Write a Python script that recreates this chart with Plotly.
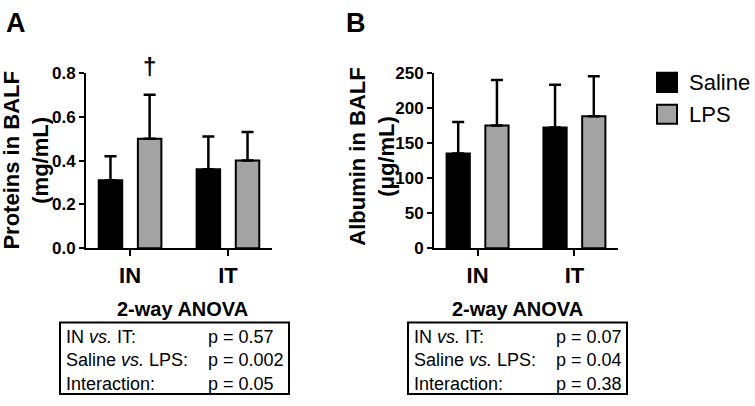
import plotly.graph_objects as go

# ---- data ----
routes = ["IN", "IT"]
groups = ["Saline", "LPS"]
protein_saline = [0.31, 0.36]
protein_saline_sd = [0.11, 0.15]
protein_lps = [0.50, 0.40]
protein_lps_sd = [0.20, 0.13]
albumin_saline = [135, 172]
albumin_saline_sd = [45, 61]
albumin_lps = [175, 188]
albumin_lps_sd = [65, 57]
protein_ticks = [0, 0.2, 0.4, 0.6, 0.8]
albumin_ticks = [0, 50, 100, 150, 200, 250]
anova_labels = ["IN <i>vs.</i> IT:", "Saline <i>vs.</i> LPS:", "Interaction:"]
anova_a = ["p = 0.57", "p = 0.002", "p = 0.05"]
anova_b = ["p = 0.07", "p = 0.04", "p = 0.38"]

# ---- style ----
W, H = 755, 406
FONT = "Arial, Liberation Sans, sans-serif"
COL = {"Saline": "#000000", "LPS": "#a3a3a3"}
BARGAP = 0.2

def px(x):
    return x / W

def py(y):
    return 1 - y / H

fig = go.Figure()

def add_panel(xa, ya, sal, sal_sd, lps, lps_sd):
    for name, vals, sd in (("Saline", sal, sal_sd), ("LPS", lps, lps_sd)):
        fig.add_trace(go.Bar(
            x=routes, y=vals, name=name, xaxis=xa, yaxis=ya, showlegend=False,
            marker=dict(color=COL[name], line=dict(color="black", width=2)),
            error_y=dict(type="data", array=sd, symmetric=False,
                         arrayminus=[0] * len(sd), color="black",
                         thickness=2.5, width=6),
            offsetgroup=name,
        ))

add_panel("x", "y", protein_saline, protein_saline_sd, protein_lps, protein_lps_sd)
add_panel("x2", "y2", albumin_saline, albumin_saline_sd, albumin_lps, albumin_lps_sd)

xcommon = dict(showline=True, linecolor="black", linewidth=2, ticks="outside",
               ticklen=6, tickwidth=2, tickcolor="black", range=[-0.45, 1.45],
               tickfont=dict(family=FONT, size=22, color="black", weight="bold"),
               showgrid=False, zeroline=False, fixedrange=True, type="category")
ycommon = dict(showline=True, linecolor="black", linewidth=2, ticks="outside",
               ticklen=5, tickwidth=2, tickcolor="black",
               tickfont=dict(family=FONT, size=17, color="black", weight="bold"),
               showgrid=False, zeroline=False, fixedrange=True)

fig.update_layout(
    width=W, height=H, margin=dict(l=0, r=0, t=0, b=0),
    paper_bgcolor="white", plot_bgcolor="white",
    barmode="group", bargap=BARGAP, bargroupgap=0.4,
    xaxis=dict(domain=[px(86), px(272)], anchor="y", **xcommon),
    yaxis=dict(domain=[py(251), py(67)], anchor="x", range=[0, 0.8],
               tickvals=protein_ticks, tickformat=".1f", **ycommon),
    xaxis2=dict(domain=[px(434), px(618)], anchor="y2", **xcommon),
    yaxis2=dict(domain=[py(251), py(67)], anchor="x2", range=[0, 250],
                tickvals=albumin_ticks, **ycommon),
)

ann = []
# panel letters
ann.append(dict(text="<b>A</b>", x=px(4), y=py(15), xref="paper", yref="paper",
                xanchor="left", yanchor="middle", showarrow=False,
                font=dict(family=FONT, size=27, color="black")))
ann.append(dict(text="<b>B</b>", x=px(344), y=py(15), xref="paper", yref="paper",
                xanchor="left", yanchor="middle", showarrow=False,
                font=dict(family=FONT, size=27, color="black")))
# y titles
ann.append(dict(text="<b>Proteins in BALF<br>(mg/mL)</b>", textangle=-90,
                x=px(26), y=py(159), xref="paper", yref="paper",
                xanchor="center", yanchor="middle", showarrow=False,
                font=dict(family=FONT, size=22, color="black")))
ann.append(dict(text="<b>Albumin in BALF<br>(μg/mL)</b>", textangle=-90,
                x=px(372), y=py(155), xref="paper", yref="paper",
                xanchor="center", yanchor="middle", showarrow=False,
                font=dict(family=FONT, size=22, color="black")))
# dagger over IN LPS
slot = (1 - BARGAP) / 2
ann.append(dict(text="<b>†</b>", x=routes.index("IN") + slot / 2, xref="x", yref="y",
                y=protein_lps[0] + protein_lps_sd[0], yanchor="bottom", yshift=13,
                showarrow=False, font=dict(family=FONT, size=24, color="black")))

# ANOVA blocks
shapes = []
for cx, box, lx, pxv, vals in ((182, (60, 289), 64, 206, anova_a),
                               (517, (408, 627), 412, 554, anova_b)):
    ann.append(dict(text="<b>2-way ANOVA</b>", x=px(cx), y=py(315), xref="paper",
                    yref="paper", xanchor="center", yanchor="middle", showarrow=False,
                    font=dict(family=FONT, size=20, color="black")))
    shapes.append(dict(type="rect", xref="paper", yref="paper",
                       x0=px(box[0]), x1=px(box[1]), y0=py(404), y1=py(329),
                       line=dict(color="black", width=2)))
    ann.append(dict(text="<br>".join(anova_labels), x=px(lx), y=py(369),
                    xref="paper", yref="paper", xanchor="left", yanchor="middle",
                    align="left", showarrow=False,
                    font=dict(family=FONT, size=18, color="black")))
    ann.append(dict(text="<br>".join(vals), x=px(pxv), y=py(369),
                    xref="paper", yref="paper", xanchor="left", yanchor="middle",
                    align="left", showarrow=False,
                    font=dict(family=FONT, size=18, color="black")))

# legend
for i, g in enumerate(groups):
    top = 67 + i * 33.5
    shapes.append(dict(type="rect", xref="paper", yref="paper",
                       x0=px(657), x1=px(677), y0=py(top + 20), y1=py(top),
                       fillcolor=COL[g], line=dict(color="black", width=2)))
    ann.append(dict(text=g, x=px(687), y=py(top + 10), xref="paper", yref="paper",
                    xanchor="left", yanchor="middle", showarrow=False,
                    font=dict(family=FONT, size=22, color="black")))

fig.update_layout(annotations=ann, shapes=shapes)
fig.write_html("out.html", config={"displayModeBar": False},
               post_script="document.body.style.margin='0';document.body.style.overflow='hidden';")
